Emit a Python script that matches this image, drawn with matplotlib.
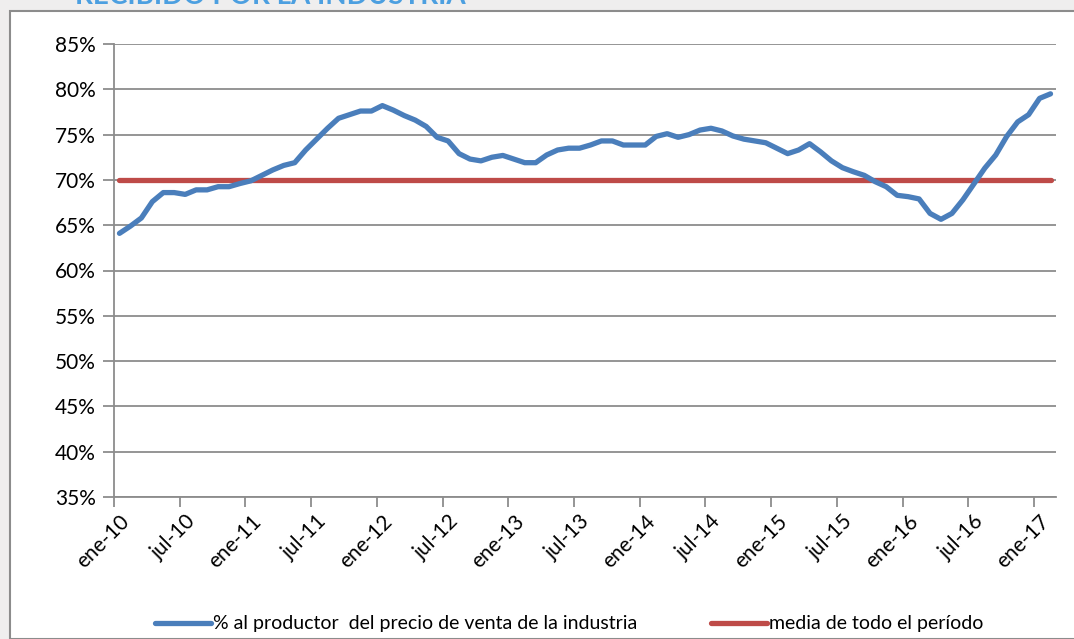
import matplotlib
matplotlib.use('Agg')
import matplotlib.pyplot as plt
from matplotlib.ticker import PercentFormatter, FixedLocator
from matplotlib.patches import Rectangle

# % recibido por el productor, mensual ene-10 .. feb-17
valores = [64.1, 64.9, 65.8, 67.6, 68.6, 68.6, 68.4, 68.9, 68.9, 69.25,
           69.25, 69.6, 69.9, 70.5, 71.1, 71.6, 71.9, 73.3, 74.5, 75.7,
           76.8, 77.2, 77.6, 77.6, 78.2, 77.7, 77.1, 76.6, 75.9, 74.7,
           74.3, 72.9, 72.3, 72.1, 72.5, 72.7, 72.3, 71.9, 71.9, 72.75,
           73.3, 73.5, 73.5, 73.85, 74.3, 74.3, 73.85, 73.85, 73.85, 74.8,
           75.1, 74.7, 75.0, 75.5, 75.7, 75.4, 74.85, 74.5, 74.3, 74.1,
           73.5, 72.9, 73.3, 74.0, 73.1, 72.1, 71.35, 70.9, 70.5, 69.8,
           69.25, 68.3, 68.15, 67.9, 66.3, 65.65, 66.3, 67.8, 69.55, 71.3,
           72.75, 74.8, 76.4, 77.2, 79.0, 79.5]
media = 70.0
meses = ['ene', 'feb', 'mar', 'abr', 'may', 'jun', 'jul', 'ago', 'sep', 'oct', 'nov', 'dic']
etiquetas = ['%s-%02d' % (meses[i % 12], 10 + i // 12) for i in range(len(valores))]

serie1 = '% al productor  del precio de venta de la industria'
serie2 = 'media de todo el período'

plt.rcParams['font.family'] = ['Lato', 'DejaVu Sans']

fig = plt.figure(figsize=(10.74, 6.39), dpi=100)
fig.patch.set_facecolor('#efeeee')

# marco del grafico
marco = Rectangle((10 / 1074, 0), 1.0, 1 - 11 / 639, transform=fig.transFigure,
                  facecolor='white', edgecolor='#8c8c8c', lw=1.5, zorder=-1)
fig.add_artist(marco)
fig.text(75 / 1074, 1 - 4 / 639, 'RECIBIDO POR LA INDUSTRIA', color='#4c9fe0',
         fontsize=20, fontweight='bold', va='baseline', ha='left', zorder=0)

ax = fig.add_axes([114 / 1074, 1 - 497 / 639, (1056 - 114) / 1074, (497 - 44) / 639])
ax.set_zorder(2)
ax.set_facecolor('white')

x = list(range(len(valores)))
ax.plot(x, valores, color='#4a7ebb', lw=3.8, solid_capstyle='round', solid_joinstyle='round',
        label=serie1, zorder=3)
ax.plot([x[0], x[-1]], [media, media], color='#be4b48', lw=3.8, solid_capstyle='round',
        label=serie2, zorder=2)

ax.set_xlim(-0.5, len(valores) - 0.5)
ax.set_ylim(35, 85)
ax.set_yticks(range(35, 90, 5))
ax.yaxis.set_major_formatter(PercentFormatter(decimals=0))
ax.grid(axis='y', color='#8c8c8c', lw=1.3)
ax.set_axisbelow(True)

for s in ['top', 'right']:
    ax.spines[s].set_visible(False)
for s in ['left', 'bottom']:
    ax.spines[s].set_color('#8c8c8c')
    ax.spines[s].set_linewidth(1.3)

# marcas entre categorias, etiquetas centradas cada 6 meses
ax.xaxis.set_major_locator(FixedLocator([i - 0.5 for i in range(0, len(valores), 6)]))
ax.set_xticklabels([])
ax.set_xticks(list(range(0, len(valores), 6)), minor=True)
ax.set_xticklabels([etiquetas[i] for i in range(0, len(valores), 6)], minor=True,
                   rotation=45, ha='right', rotation_mode='anchor')
ax.tick_params(axis='x', which='major', length=7, color='#8c8c8c', width=1.3)
ax.tick_params(axis='x', which='minor', length=0, pad=10, labelsize=15)
ax.tick_params(axis='y', length=8, color='#8c8c8c', width=1.3, labelsize=15, pad=5)

fig.legend(loc='center', bbox_to_anchor=(0.53, 1 - 624 / 639), ncol=2, frameon=False,
           fontsize=14, handlelength=2.9, handletextpad=0.1, columnspacing=3.8)

fig.savefig('out.png', dpi=100, facecolor=fig.get_facecolor())
